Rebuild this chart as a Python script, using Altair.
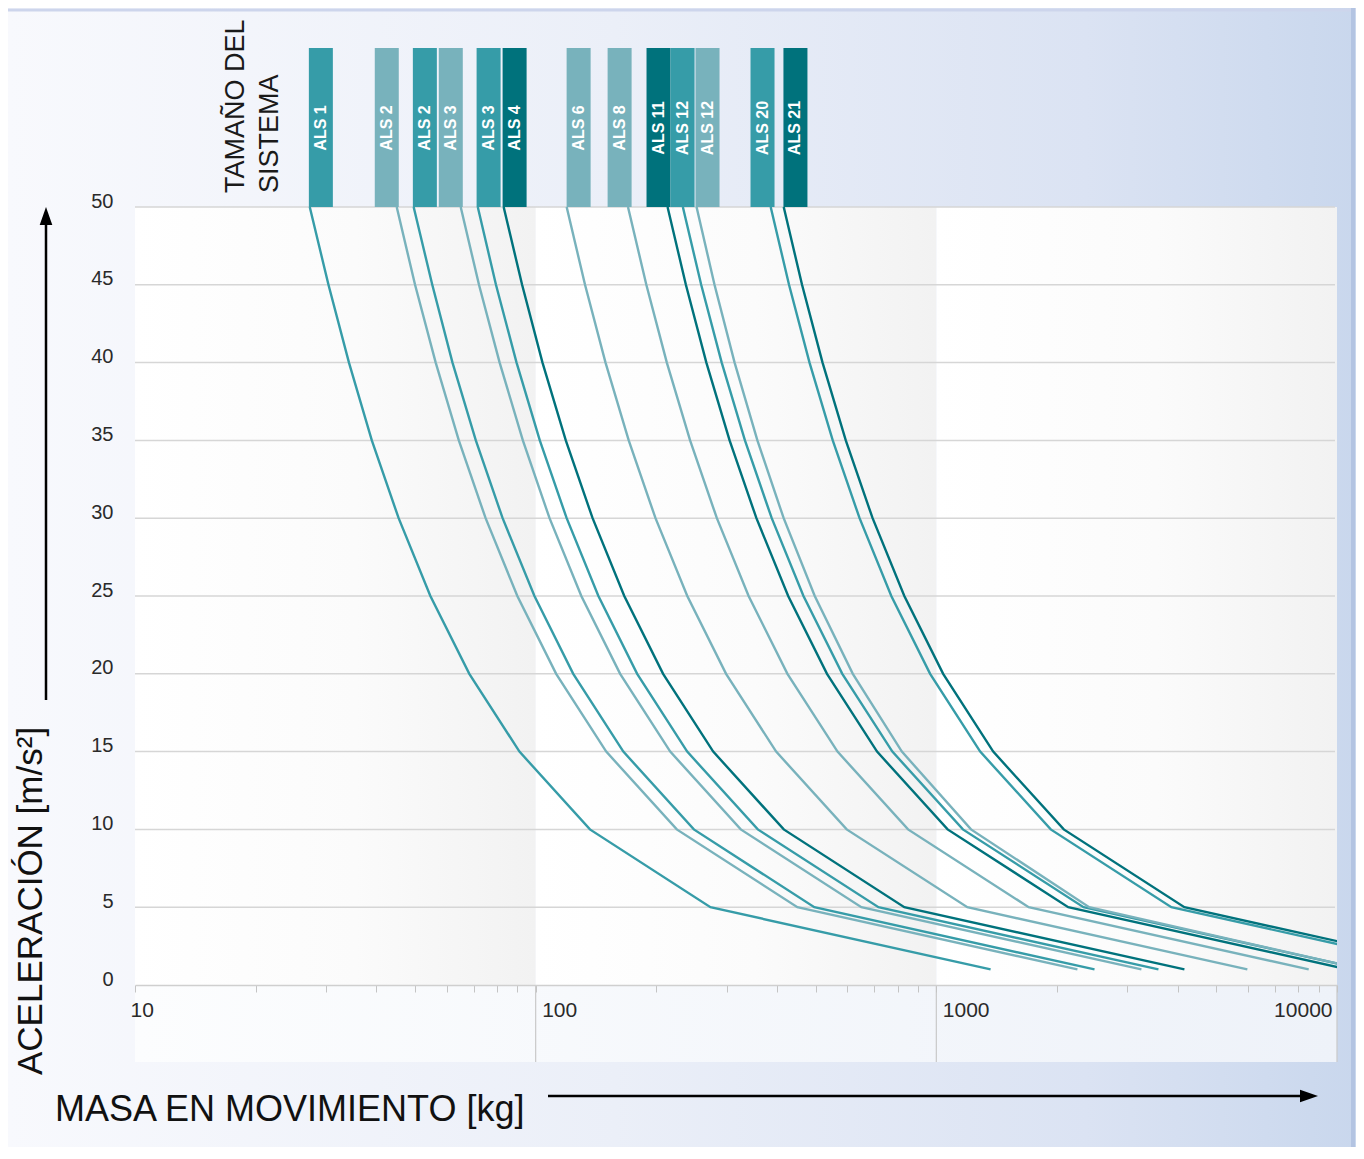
import altair as alt
import pandas as pd

# ---------------- data ----------------
acc = [50, 45, 40, 35, 30, 25, 20, 15, 10, 5, 1]

labels = ["ALS 1", "ALS 2", "ALS 2", "ALS 3", "ALS 3", "ALS 4", "ALS 6",
          "ALS 8", "ALS 11", "ALS 12", "ALS 12", "ALS 20", "ALS 21"]
tones = ["medium", "light", "medium", "light", "medium", "dark", "light",
         "light", "dark", "medium", "light", "medium", "dark"]
header_mass = [29.1, 42.5, 52.9, 61.4, 76.3, 88.6, 128.0, 162.0, 202.6,
               232.6, 268.5, 368.3, 445.0]

als1 = [27.3, 30.4, 34.2, 39.0, 45.5, 54.6, 68.3, 91.1, 136.6, 273, 1366]
als2a = [45.0, 50.0, 56.3, 64.3, 75.0, 90.0, 112.5, 150, 225, 450, 2250]
als2b = [49.6, 55.2, 62.0, 70.9, 82.7, 99.3, 124.1, 165.5, 248.2, 496, 2482]
als3a = [65.0, 72.2, 81.3, 92.9, 108.3, 130, 162.5, 216.7, 325, 650, 3250]
als3b = [71.7, 79.6, 89.6, 102.4, 119.5, 143.4, 179.2, 238.9, 358.4, 717, 3584]
als4 = [83.2, 92.5, 104.0, 118.9, 138.7, 166.4, 208.0, 277.4, 416.1, 832, 4161]
als6 = [119.5, 132.8, 149.4, 170.7, 199.1, 239.0, 298.7, 398.3, 597.4, 1195, 5974]
als8 = [170, 188.9, 212.5, 242.9, 283.3, 340, 425, 566.7, 850, 1700, 8500]
als11 = [213.4, 237.1, 266.7, 304.8, 355.6, 426.8, 533.5, 711.3, 1067, 2134, 10669]
als12a = [233, 258.9, 291.3, 332.9, 388.3, 466, 582.5, 776.7, 1165, 2330, 11650]
als12b = [252.1, 279.5, 313.7, 357.6, 415.9, 497.2, 618.8, 820.3, 1220.5, 2407, 11657]
als20 = [386, 428.9, 482.5, 551.4, 643.3, 772, 965, 1286.7, 1930, 3860, 19300]
als21 = [416, 462.2, 520, 594.3, 693.3, 832, 1040, 1386.7, 2080, 4160, 20800]

series = [als1, als2a, als2b, als3a, als3b, als4, als6, als8, als11,
          als12a, als12b, als20, als21]

x_ticks = [10, 20, 30, 40, 50, 60, 70, 80, 90,
           100, 200, 300, 400, 500, 600, 700, 800, 900,
           1000, 2000, 3000, 4000, 5000, 6000, 7000, 8000, 9000, 10000]
x_labels = [10, 100, 1000, 10000]
y_ticks = [0, 5, 10, 15, 20, 25, 30, 35, 40, 45, 50]
decade_lo = [10, 100, 1000]
decade_hi = [100, 1000, 10000]

# ---------------- tables ----------------
rows = []
for i, (lab, tone, ms) in enumerate(zip(labels, tones, series)):
    for j, (a, m) in enumerate(zip(acc, ms)):
        rows.append({"sid": i, "label": lab, "tone": tone, "mass": m, "acc": a, "ord": j})
df = pd.DataFrame(rows)
hdr = pd.DataFrame({"sid": list(range(len(labels))), "label": labels,
                    "tone": tones, "mass": header_mass})
bands = pd.DataFrame({"lo": decade_lo, "hi": decade_hi})
decades = pd.DataFrame({"m": decade_hi})
grid = pd.DataFrame({"a": y_ticks[1:]})
one = pd.DataFrame({"k": [0]})

# ---------------- styling ----------------
W, H = 1202, 778
PL, PT, PR, PB = 127, 199, 19, 162
CW, CH = PL + W + PR, PT + H + PB
FONT = "Liberation Sans"
xs = alt.Scale(type="log", domain=[10, 10000])
ys = alt.Scale(domain=[0, 50])
tone_scale = alt.Scale(domain=["light", "medium", "dark"],
                       range=["#78b2bc", "#369ca8", "#00727c"])

label_list = ",".join(str(v) for v in x_labels)
xaxis = alt.Axis(values=x_ticks, title=None, grid=False,
                 labelExpr=f"indexof([{label_list}], datum.value) >= 0 ? format(datum.value, 'd') : ''",
                 domainColor="#cfcfcf", domainWidth=1.5, tickColor="#c4c4c4",
                 tickSize=7, tickWidth=1, labelFont=FONT, labelFontSize=21,
                 labelColor="#2a2a2a", labelPadding=7,
                 labelAlign={"condition": {"test": "datum.value >= 10000", "value": "right"},
                             "value": "left"},
                 labelOffset={"condition": {"test": "datum.value > 10 && datum.value < 10000", "value": 6},
                              "value": -5},
                 labelFlush=False, labelOverlap=False, labelBaseline="top", zindex=1)
yaxis = alt.Axis(values=y_ticks, title=None, grid=False, domain=False, ticks=False,
                 labelFont=FONT, labelFontSize=20, labelColor="#2a2a2a",
                 labelPadding=22, labelBaseline="alphabetic", zindex=1)

X = lambda f: alt.X(f, scale=xs, axis=xaxis)
Y = lambda f: alt.Y(f, scale=ys, axis=yaxis)


def hgrad(stops):
    return alt.LinearGradient(
        gradient="linear", x1=0, x2=1, y1=0, y2=0,
        stops=[alt.GradientStop(offset=o, color=c) for o, c in stops])


page_bg = alt.Chart(one).mark_rect(
    fill=hgrad([(0, "#f8f9fd"), (0.45, "#ebeff8"), (0.8, "#dbe3f3"), (1, "#c9d7ed")]),
    strokeWidth=0).encode(x=alt.value(-PL), x2=alt.value(CW - PL),
                          y=alt.value(-PT), y2=alt.value(CH - PT))

top_border = alt.Chart(one).mark_rule(color="#cdd5ec", strokeWidth=3).encode(
    x=alt.value(-PL), x2=alt.value(CW - PL), y=alt.value(-PT + 2))
right_border = alt.Chart(one).mark_rule(color="#b3c4e2", strokeWidth=4).encode(
    x=alt.value(CW - PL - 3), y=alt.value(-PT), y2=alt.value(CH - PT))

band_rects = alt.Chart(bands).mark_rect(
    fill=hgrad([(0, "#ffffff"), (0.55, "#fbfbfb"), (1, "#f2f2f2")]),
    strokeWidth=0).encode(x=X("lo:Q"), x2="hi:Q", y=alt.value(0), y2=alt.value(H))

bottom_band = alt.Chart(one).mark_rect(
    fill=hgrad([(0, "#fcfdfe"), (1, "#eef2f9")]), strokeWidth=0).encode(
    x=alt.value(0), x2=alt.value(W), y=alt.value(H), y2=alt.value(H + 77))

decade_rules = alt.Chart(decades).mark_rule(color="#c9c9c9", strokeWidth=1.2).encode(
    x=X("m:Q"), y=alt.value(H), y2=alt.value(H + 77))

grid_rules = alt.Chart(grid).mark_rule(color="#d6d6d6", strokeWidth=1.5).encode(
    y=Y("a:Q"), x=alt.value(0), x2=alt.value(W - 2))

lines = alt.Chart(df).mark_line(clip=True, strokeWidth=2.4).encode(
    x=X("mass:Q"), y=Y("acc:Q"), detail="sid:N",
    color=alt.Color("tone:N", scale=tone_scale, legend=None),
    order="ord:Q")

hdr_bars = alt.Chart(hdr).mark_rule(strokeWidth=24).encode(
    x=X("mass:Q"), y=alt.value(-159), y2=alt.value(0),
    color=alt.Color("tone:N", scale=tone_scale, legend=None))

hdr_text = alt.Chart(hdr).mark_text(
    angle=270, color="white", font=FONT, fontWeight="bold", fontSize=16,
    align="center", baseline="middle").encode(
    x=X("mass:Q"), y=alt.value(-79), text="label:N")

size_title = alt.Chart(one).mark_text(
    angle=270, font=FONT, fontSize=27, color="#1a1a1a", align="left",
    baseline="top", lineHeight=34).encode(
    x=alt.value(88), y=alt.value(-14),
    text=alt.value(["TAMAÑO DEL", "SISTEMA"]))

y_title = alt.Chart(one).mark_text(
    angle=270, font=FONT, fontSize=35, color="#111111", align="left",
    baseline="middle").encode(
    x=alt.value(-104), y=alt.value(868), text=alt.value("ACELERACIÓN [m/s²]"))

x_title = alt.Chart(one).mark_text(
    font=FONT, fontSize=36, color="#111111", align="left",
    baseline="alphabetic").encode(
    x=alt.value(-80), y=alt.value(914), text=alt.value("MASA EN MOVIMIENTO [kg]"))

y_arrow = alt.Chart(one).mark_rule(color="#000000", strokeWidth=2.5).encode(
    x=alt.value(-89), y=alt.value(493), y2=alt.value(14))
y_head = alt.Chart(one).mark_point(
    shape="M-0.7,1L0,-1L0.7,1Z", filled=True, color="#000000", opacity=1,
    size=324, strokeWidth=0).encode(x=alt.value(-89), y=alt.value(9))

x_arrow = alt.Chart(one).mark_rule(color="#000000", strokeWidth=2.5).encode(
    x=alt.value(413), x2=alt.value(1172), y=alt.value(889))
x_head = alt.Chart(one).mark_point(
    shape="M-1,-0.7L1,0L-1,0.7Z", filled=True, color="#000000", opacity=1,
    size=324, strokeWidth=0).encode(x=alt.value(1174), y=alt.value(889))

chart = alt.layer(
    page_bg, top_border, right_border, band_rects, bottom_band, decade_rules,
    grid_rules, lines, hdr_bars, hdr_text, size_title, y_title, x_title,
    y_arrow, y_head, x_arrow, x_head
).properties(
    width=W, height=H,
    autosize=alt.AutoSizeParams(type="none"),
    padding={"left": PL, "top": PT, "right": PR, "bottom": PB},
).configure_view(stroke=None).configure(background="#ffffff")

chart.save("out.html", embed_options={"renderer": "svg", "actions": False})
